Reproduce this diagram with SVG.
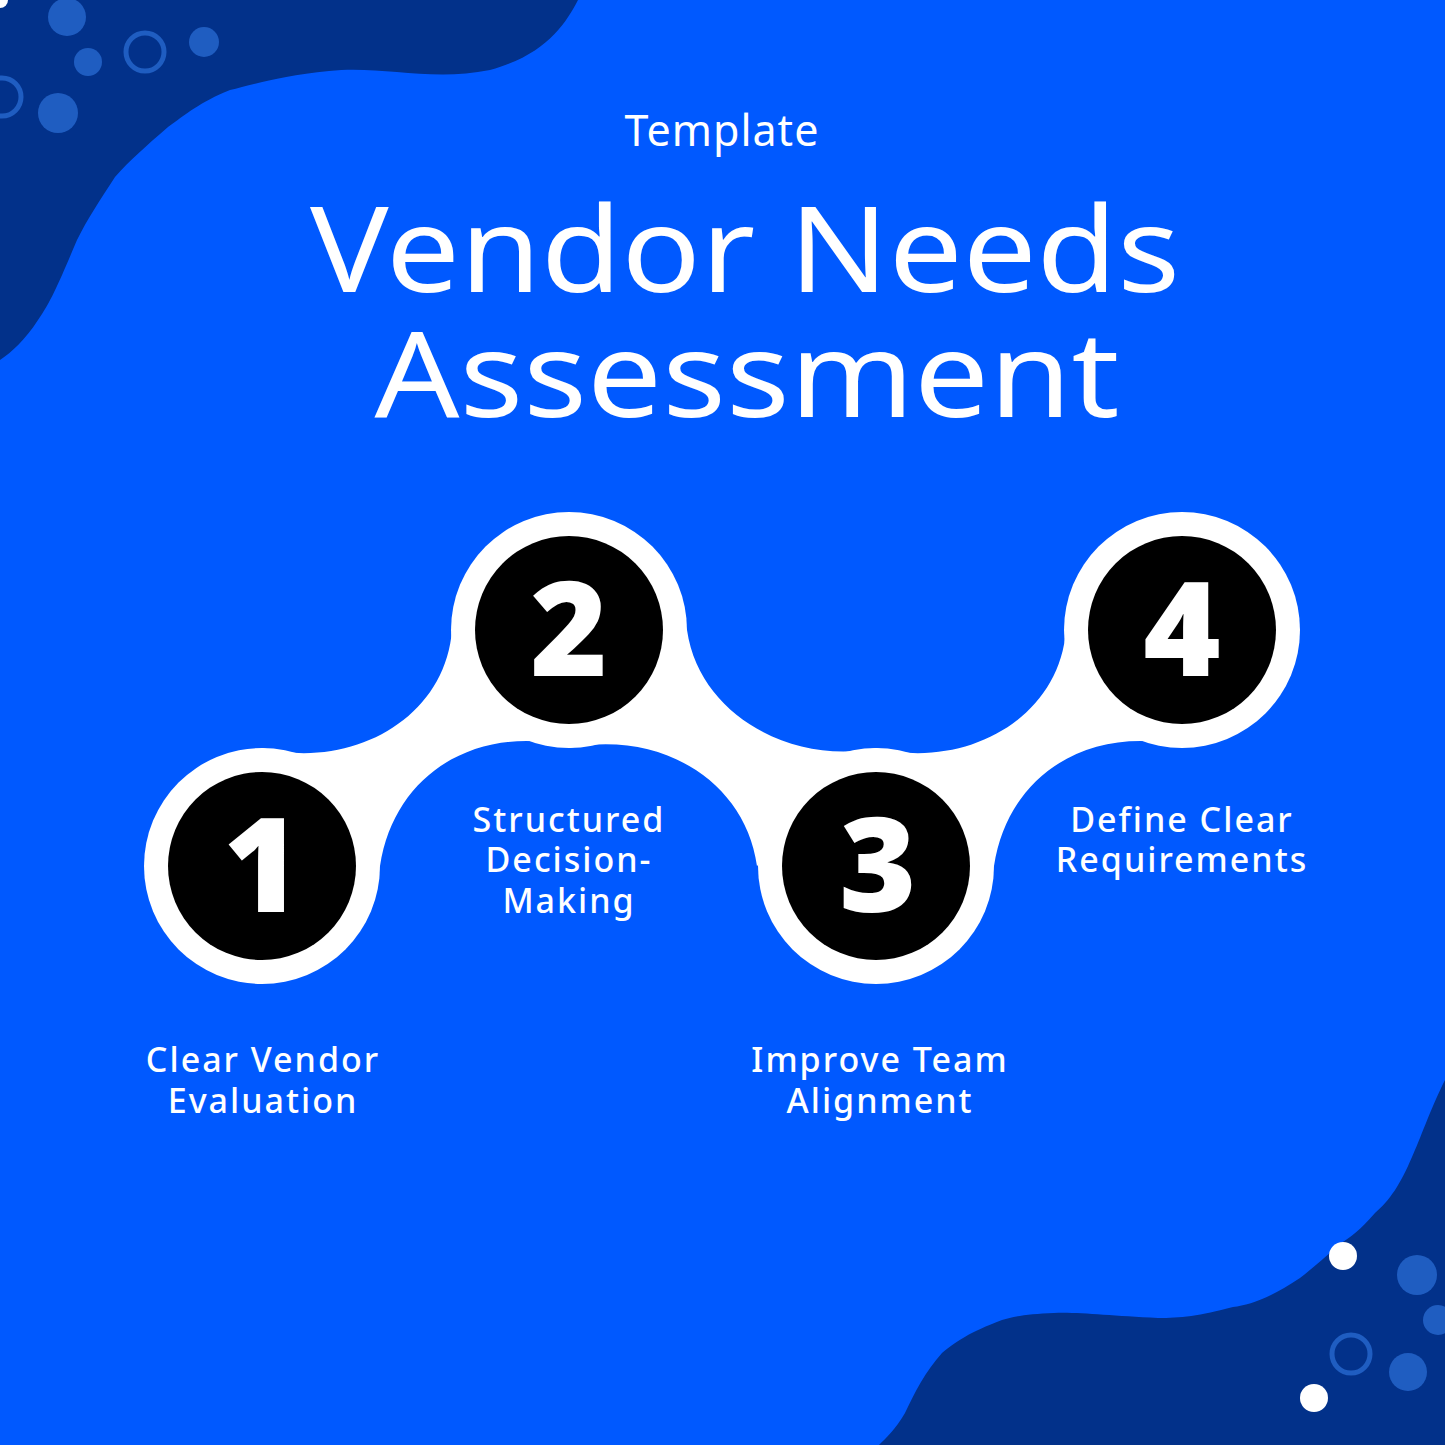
<svg xmlns="http://www.w3.org/2000/svg" width="1445" height="1445" viewBox="0 0 1445 1445">
<style>
.dot{fill:#1F5DC1}
.ring{fill:none;stroke:#1F5DC1;stroke-width:5}
.wh{fill:#fff}
.blk{fill:#000}
.num{font-family:"Noto Sans","DejaVu Sans",sans-serif;font-weight:900;font-size:132px;fill:#fff;text-anchor:middle}
.lbl{font-family:"Noto Sans","DejaVu Sans",sans-serif;font-weight:500;font-size:34px;letter-spacing:2px;fill:#fff;text-anchor:middle}
.ttl{font-family:"Noto Sans","DejaVu Sans",sans-serif;font-weight:400;fill:#fff;text-anchor:middle}
</style>
<rect width="1445" height="1445" fill="#0059FF"/>
<path d="M0,0 L578,0 C565,25 545,55 490,70 C430,82 380,65 329,71 C280,76 250,85 230,90 C200,102 185,115 168,127 C145,147 130,160 115,177 C100,200 88,218 77,240 C60,280 52,300 38,320 C25,340 12,352 0,360 Z" fill="#02318A"/>
<path d="M1445,1080 C1430,1110 1420,1140 1412,1157 C1400,1185 1390,1200 1375,1213 C1360,1230 1350,1238 1341,1243 C1320,1262 1310,1270 1300,1278 C1270,1298 1250,1305 1233,1307 C1200,1316 1180,1318 1158,1318 C1110,1316 1080,1312 1054,1313 C1030,1314 1015,1316 1002,1320 C970,1332 955,1342 942,1353 C925,1372 915,1392 905,1413 C895,1430 886,1438 879,1445 L1445,1445 Z" fill="#02318A"/>
<g id="decor">
<circle class="dot" cx="67" cy="17" r="19"/>
<circle class="dot" cx="88" cy="62" r="14"/>
<circle class="ring" cx="145" cy="52" r="19"/>
<circle class="dot" cx="204" cy="42" r="15"/>
<circle class="ring" cx="2" cy="97" r="19"/>
<circle class="dot" cx="58" cy="113" r="20"/>
<circle class="wh" cx="0" cy="0" r="8"/>
<circle class="wh" cx="1343" cy="1256" r="14"/>
<circle class="wh" cx="1314" cy="1398" r="14"/>
<circle class="dot" cx="1417" cy="1275" r="20"/>
<circle class="dot" cx="1438" cy="1320" r="15"/>
<circle class="ring" cx="1351" cy="1354" r="19"/>
<circle class="dot" cx="1408" cy="1372" r="19"/>
</g>
<text class="ttl" x="722" y="146" font-size="43" letter-spacing="1">Template</text>
<text class="ttl" x="745" y="292" font-size="118" textLength="870" lengthAdjust="spacingAndGlyphs">Vendor Needs</text>
<text class="ttl" x="747" y="417" font-size="118" textLength="745" lengthAdjust="spacingAndGlyphs">Assessment</text>
<g id="connectors">
<path class="wh" d="M262,748 C350,770 445,720 452,630 L569,746 C480,725 395,770 380,866 Z"/>
<path class="wh" d="M687,630 C700,720 800,765 876,748 L757,866 C745,780 660,730 569,748 Z"/>
<path class="wh" d="M876,748 C964,770 1059,720 1066,630 L1183,746 C1094,725 1009,770 994,866 Z"/>
</g>
<g id="step1"><circle class="wh" cx="262" cy="866" r="118"/><circle class="blk" cx="262" cy="866" r="94"/><text class="num" x="262" y="912">1</text>
<text class="lbl" x="263" y="1072">Clear Vendor</text><text class="lbl" x="263" y="1113">Evaluation</text></g>
<g id="step2"><circle class="wh" cx="569" cy="630" r="118"/><circle class="blk" cx="569" cy="630" r="94"/><text class="num" x="569" y="676">2</text>
<text class="lbl" x="569" y="832">Structured</text><text class="lbl" x="569" y="872">Decision-</text><text class="lbl" x="569" y="913">Making</text></g>
<g id="step3"><circle class="wh" cx="876" cy="866" r="118"/><circle class="blk" cx="876" cy="866" r="94"/><text class="num" x="878" y="912">3</text>
<text class="lbl" x="880" y="1072">Improve Team</text><text class="lbl" x="880" y="1113">Alignment</text></g>
<g id="step4"><circle class="wh" cx="1182" cy="630" r="118"/><circle class="blk" cx="1182" cy="630" r="94"/><text class="num" x="1182" y="676">4</text>
<text class="lbl" x="1182" y="832">Define Clear</text><text class="lbl" x="1182" y="872">Requirements</text></g>
</svg>
